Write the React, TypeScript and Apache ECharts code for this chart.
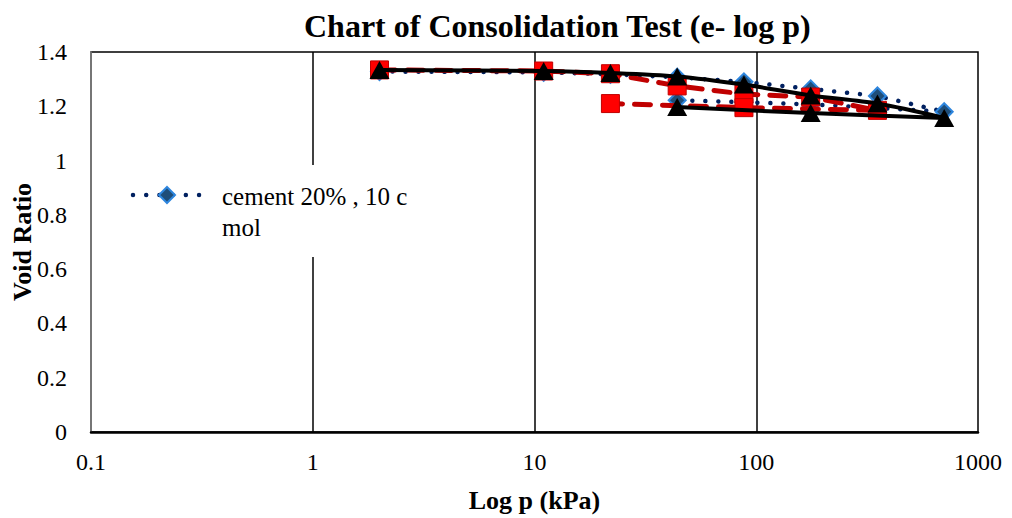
import React, { useEffect, useRef } from "react";
import * as echarts from "echarts";

const titleText = "Chart of Consolidation Test (e- log p)";
const xAxisName = "Log p (kPa)";
const yAxisName = "Void Ratio";
const legendName = "cement 20% , 10 c mol";

const xTickLabels = ["0.1", "1", "10", "100", "1000"];
const yTickLabels = ["0", "0.2", "0.4", "0.6", "0.8", "1", "1.2", "1.4"];

// Series 1 (blue dotted, diamonds): loading then unloading
const blueP = [2, 11, 22, 44, 88, 176, 352, 704, 176, 88, 44];
const blueE = [1.328, 1.325, 1.318, 1.307, 1.29, 1.264, 1.238, 1.18, 1.207, 1.215, 1.222];

// Series 2 (red dashed, squares)
const redP = [2, 11, 22, 44, 88, 176, 352, 88, 22];
const redE = [1.334, 1.33, 1.32, 1.275, 1.245, 1.234, 1.185, 1.195, 1.21];

// Series 3 (black solid smooth, triangles)
const blackP = [2, 11, 22, 44, 88, 176, 352, 704, 176, 44];
const blackE = [1.334, 1.33, 1.323, 1.31, 1.28, 1.24, 1.21, 1.157, 1.175, 1.197];

const pairs = (xs: number[], ys: number[]) => xs.map((x, i) => [x, ys[i]]);

const FONT = "'Liberation Serif', 'Times New Roman', serif";

export default function App() {
  const ref = useRef<HTMLDivElement>(null);

  useEffect(() => {
    if (!ref.current) return;
    const chart = echarts.init(ref.current, undefined, { renderer: "svg" });
    const fmtNum = (v: number) => String(Number(v.toPrecision(6)));
    chart.setOption({
      animation: false,
      backgroundColor: "#ffffff",
      textStyle: { fontFamily: FONT },
      title: {
        text: titleText,
        left: 304,
        top: 10,
        padding: 0,
        textStyle: { fontFamily: FONT, fontSize: 32, fontWeight: "bold", color: "#000" },
      },
      grid: {
        left: 91,
        right: 34,
        top: 52,
        bottom: 86,
        containLabel: false,
        outerBoundsMode: "none",
        show: true,
        borderColor: "#000",
        borderWidth: 1.5,
        backgroundColor: "transparent",
      },
      xAxis: {
        type: "log",
        logBase: 10,
        min: 0.1,
        max: 1000,
        name: xAxisName,
        nameLocation: "middle",
        nameGap: 55,
        nameMoveOverlap: false,
        nameTextStyle: { fontFamily: FONT, fontSize: 26, fontWeight: "bold", color: "#000" },
        axisLine: { show: true, lineStyle: { color: "#000", width: 2.5 } },
        axisTick: { show: false },
        axisLabel: {
          fontFamily: FONT,
          fontSize: 24,
          color: "#000",
          margin: 18,
          hideOverlap: false,
          formatter: (v: number) => {
            const s = fmtNum(v);
            return xTickLabels.includes(s) ? s : "";
          },
        },
        splitLine: {
          show: true,
          showMinLine: false,
          showMaxLine: false,
          lineStyle: { color: "#000", width: 1.5 },
        },
        minorTick: { show: false },
      },
      yAxis: {
        type: "value",
        min: 0,
        max: 1.4,
        interval: 0.2,
        name: yAxisName,
        nameLocation: "middle",
        nameGap: 56,
        nameMoveOverlap: false,
        nameTextStyle: { fontFamily: FONT, fontSize: 26, fontWeight: "bold", color: "#000" },
        axisLine: { show: true, lineStyle: { color: "#8a8a8a", width: 1.5 } },
        axisTick: { show: false },
        axisLabel: {
          fontFamily: FONT,
          fontSize: 24,
          color: "#000",
          margin: 24,
          formatter: (v: number) => {
            const s = fmtNum(v);
            return yTickLabels.includes(s) ? s : "";
          },
        },
        splitLine: { show: false },
      },
      series: [
        {
          name: legendName,
          type: "line",
          data: pairs(blueP, blueE),
          z: 2,
          symbol: "diamond",
          symbolSize: 17,
          itemStyle: { color: "#1f4e79", borderColor: "#2e86de", borderWidth: 2 },
          lineStyle: { color: "#002060", width: 4.5, type: [0.01, 13], cap: "round" },
        },
        {
          name: "red",
          type: "line",
          data: pairs(redP, redE),
          z: 3,
          symbol: "rect",
          symbolSize: 18,
          itemStyle: { color: "#ff0000", borderColor: "#c00000", borderWidth: 1 },
          lineStyle: { color: "#c00000", width: 5, type: [16, 12], cap: "round" },
        },
        {
          name: "black",
          type: "line",
          data: pairs(blackP, blackE),
          z: 4,
          smooth: 0.3,
          symbol: "triangle",
          symbolSize: [20, 18],
          itemStyle: { color: "#000000" },
          lineStyle: { color: "#000000", width: 4 },
        },
      ],
      graphic: [
        {
          type: "group",
          z: 100,
          children: [
            {
              type: "rect",
              shape: { x: 118, y: 165, width: 300, height: 92 },
              style: { fill: "#ffffff" },
              z: 100,
            },
            {
              type: "line",
              shape: { x1: 133, y1: 195, x2: 200, y2: 195 },
              style: { stroke: "#002060", lineWidth: 4.5, lineDash: [0.01, 13.2], lineCap: "round" },
              z: 101,
            },
            {
              type: "polygon",
              shape: { points: [[167, 187], [175, 195], [167, 203], [159, 195]] },
              style: { fill: "#1f4e79", stroke: "#2e86de", lineWidth: 2 },
              z: 102,
            },
            {
              type: "text",
              x: 222,
              y: 196,
              style: {
                text: "cement 20% , 10 c",
                fontFamily: FONT,
                fontSize: 25,
                fill: "#000",
                verticalAlign: "middle",
              },
              z: 102,
            },
            {
              type: "text",
              x: 222,
              y: 227,
              style: {
                text: "mol",
                fontFamily: FONT,
                fontSize: 25,
                fill: "#000",
                verticalAlign: "middle",
              },
              z: 102,
            },
          ],
        },
      ],
    });
    return () => chart.dispose();
  }, []);

  return (
    <div
      ref={ref}
      style={{ position: "absolute", left: 0, top: 0, width: 1012, height: 518 }}
    />
  );
}
